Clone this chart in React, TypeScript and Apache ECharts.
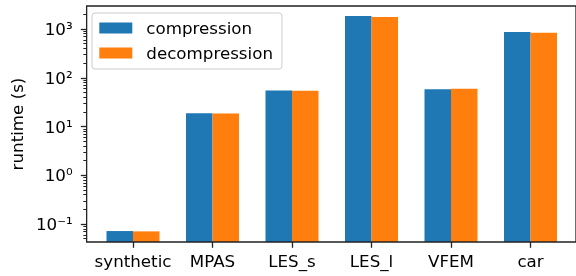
import React, { useEffect, useRef } from "react";
import * as echarts from "echarts";

const categories = ["synthetic", "MPAS", "LES_s", "LES_l", "VFEM", "car"];
const compression = [0.0718, 18.8, 54.8, 1848, 58.4, 868];
const decompression = [0.0707, 18.6, 54.1, 1762, 59.3, 840];
const majorTicks = [0.1, 1, 10, 100, 1000];
const minorTicks = [
  0.05, 0.06, 0.07, 0.08, 0.09,
  0.2, 0.3, 0.4, 0.5, 0.6, 0.7, 0.8, 0.9,
  2, 3, 4, 5, 6, 7, 8, 9,
  20, 30, 40, 50, 60, 70, 80, 90,
  200, 300, 400, 500, 600, 700, 800, 900,
  2000,
];
const yMin = 0.0428;
const yMax = 2965;

const FONT = "DejaVu Sans";
const FS = 16.7;

const sup: Record<string, string> = {
  "-": "\u207b", "0": "\u2070", "1": "\u00b9", "2": "\u00b2", "3": "\u00b3",
  "4": "\u2074", "5": "\u2075", "6": "\u2076", "7": "\u2077", "8": "\u2078", "9": "\u2079",
};
const fmtPow = (v: number) => {
  const e = Math.round(Math.log10(v));
  return "10" + String(e).split("").map((c) => sup[c] || c).join("");
};

export default function App() {
  const ref = useRef<HTMLDivElement>(null);
  useEffect(() => {
    if (!ref.current) return;
    const chart = echarts.init(ref.current, null, { renderer: "svg" });
    const top = 6;
    const bottom = 34;
    chart.setOption({
      animation: false,
      textStyle: { fontFamily: FONT },
      grid: [
        { left: 84, right: -3.5, top, bottom, show: true, borderColor: "#222", borderWidth: 1.3, backgroundColor: "transparent", z: 5 },
        { left: 93.25, right: 5.75, top, bottom },
      ],
      legend: {
        orient: "vertical",
        left: 92,
        top: 13,
        itemWidth: 33,
        itemHeight: 11,
        itemGap: 8,
        padding: [6.5, 9, 7.5, 7.3],
        backgroundColor: "rgba(255,255,255,0.8)",
        borderColor: "#cccccc",
        borderWidth: 1,
        borderRadius: 3,
        icon: "rect",
        textStyle: { fontFamily: FONT, fontSize: FS, color: "#000", lineHeight: 17, padding: [0, 0, 0, 9] },
        data: ["compression", "decompression"],
      },
      xAxis: [
        { type: "value", gridIndex: 0, show: false, min: 0, max: 1 },
        {
          type: "category",
          gridIndex: 1,
          data: categories,
          axisLine: { show: false },
          axisTick: { show: true, alignWithLabel: true, length: 5.8, lineStyle: { color: "#222", width: 1.3 } },
          axisLabel: { fontFamily: FONT, fontSize: FS, color: "#000", margin: 10, interval: 0 },
        },
      ],
      yAxis: [
        {
          type: "log",
          gridIndex: 0,
          position: "left",
          min: yMin,
          max: yMax,
          name: "runtime (s)",
          nameLocation: "middle",
          nameGap: 61,
          nameTextStyle: { fontFamily: FONT, fontSize: FS, color: "#000" },
          axisLine: { show: false },
          splitLine: { show: false },
          axisTick: { show: true, length: 5.8, customValues: majorTicks, lineStyle: { color: "#222", width: 1.3 } },
          axisLabel: { fontFamily: FONT, fontSize: FS, color: "#000", margin: 14, customValues: majorTicks, formatter: (v: number) => fmtPow(v) },
        },
        {
          type: "log",
          gridIndex: 0,
          position: "left",
          offset: 0,
          min: yMin,
          max: yMax,
          axisLine: { show: false },
          splitLine: { show: false },
          axisLabel: { show: false },
          axisTick: { show: true, length: 3.3, customValues: minorTicks, lineStyle: { color: "#222", width: 1 } },
        },
        {
          type: "log",
          gridIndex: 1,
          min: yMin,
          max: yMax,
          startValue: yMin,
          show: false,
          splitLine: { show: false },
        },
      ],
      series: [
        {
          name: "compression",
          type: "bar",
          xAxisIndex: 1,
          yAxisIndex: 2,
          data: compression,
          barWidth: 26.5,
          barGap: "0%",
          itemStyle: { color: "#1f77b4" },
        },
        {
          name: "decompression",
          type: "bar",
          xAxisIndex: 1,
          yAxisIndex: 2,
          data: decompression,
          barWidth: 26.5,
          barGap: "0%",
          itemStyle: { color: "#ff7f0e" },
        },
      ],
    });
    return () => chart.dispose();
  }, []);
  return (
    <div
      ref={ref}
      style={{ position: "fixed", left: 0, top: 0, width: 576, height: 276 }}
    />
  );
}
